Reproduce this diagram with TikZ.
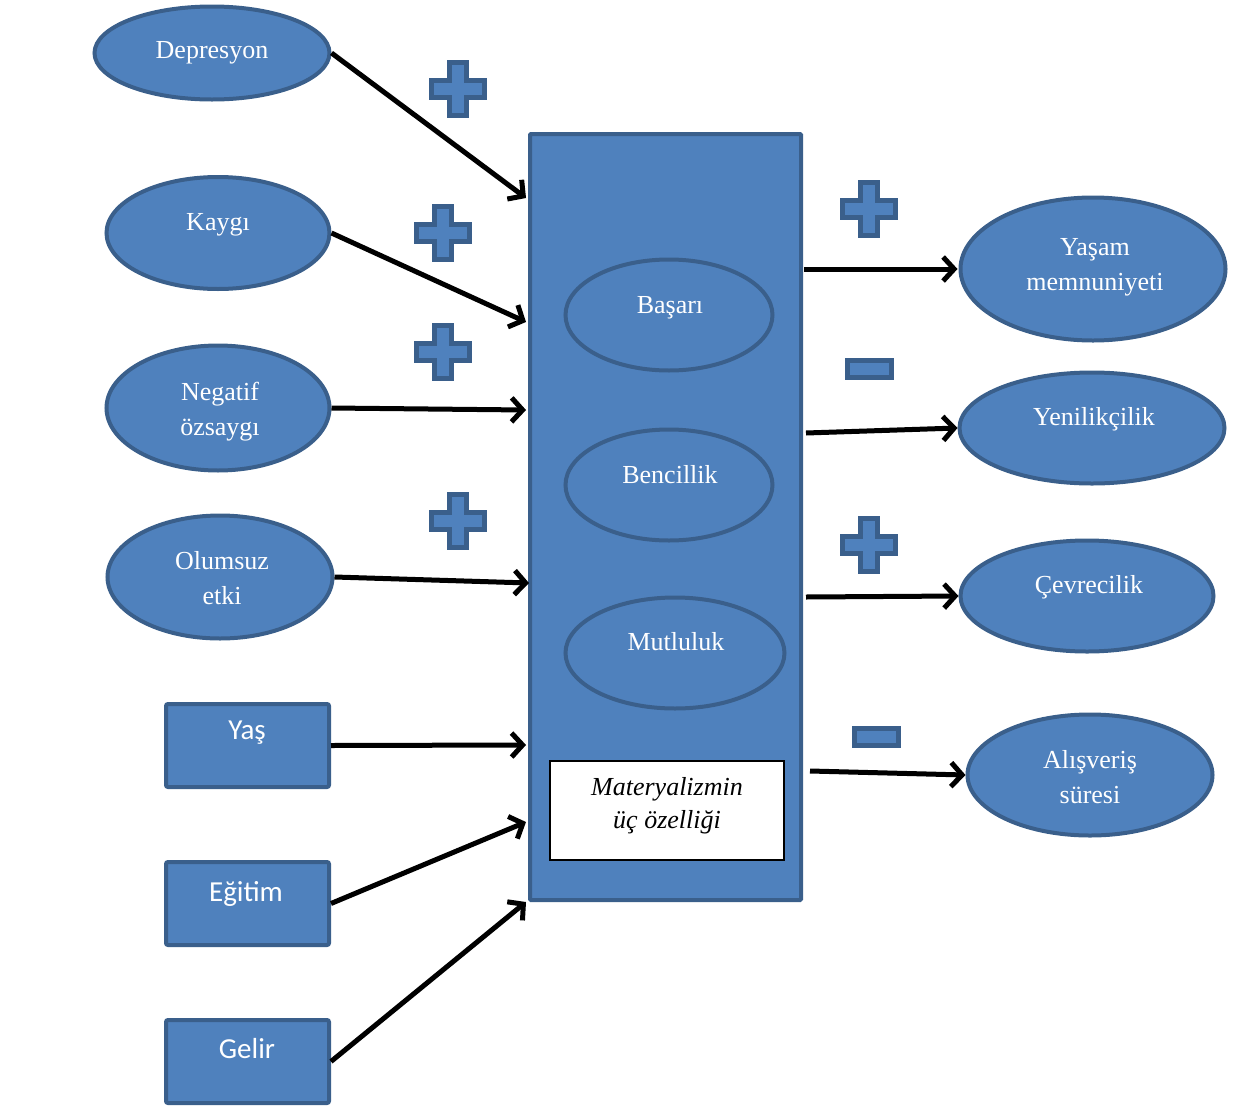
\documentclass[tikz,border=0pt]{standalone}
\usepackage{fontspec}
\setmainfont{Liberation Serif}
\newfontfamily\boxfont{Carlito}
\usetikzlibrary{shapes.geometric,arrows.meta}
\definecolor{fillc}{HTML}{4F81BD}
\definecolor{borderc}{HTML}{3A5F8B}
\tikzset{
  oval/.style={ellipse, draw=borderc, fill=fillc, line width=4pt, inner sep=0pt},
  sqbox/.style={rectangle, rounded corners=2pt, draw=borderc, fill=fillc, line width=4pt, inner sep=0pt},
  lbl/.style={text=white, font=\fontsize{26}{35}\selectfont, anchor=base, inner sep=0pt, align=center},
  blbl/.style={text=white, font=\boxfont\fontsize{29}{35}\selectfont, anchor=base, inner sep=0pt},
  ilbl/.style={text=black, font=\itshape\fontsize{26}{33}\selectfont, anchor=base, inner sep=0pt, align=center},
  arr/.style={line width=5pt, -{Straight Barb[length=11pt,width=24pt]}},
  sign/.style={fill=fillc, draw=borderc, line width=5pt},
  plussign/.pic={\path[sign] (-8.5,-26.5) -- (8.5,-26.5) -- (8.5,-8.5) -- (26.5,-8.5) -- (26.5,8.5) -- (8.5,8.5) -- (8.5,26.5) -- (-8.5,26.5) -- (-8.5,8.5) -- (-26.5,8.5) -- (-26.5,-8.5) -- (-8.5,-8.5) -- cycle;},
  minussign/.pic={\path[sign] (-22,-8.5) rectangle (22,8.5);}
}
\begin{document}
\begin{tikzpicture}[x=1pt,y=-1pt]
\useasboundingbox (0,0) rectangle (1235,1106);

% central box
\node[sqbox, rounded corners=1pt, minimum width=271pt, minimum height=766pt] (main) at (665.5,517) {};
\node[oval, minimum width=207pt, minimum height=111pt] (bas) at (669,315) {};
\node[oval, minimum width=207pt, minimum height=111pt] (ben) at (669,485) {};
\node[oval, minimum width=219pt, minimum height=111pt] (mut) at (675,653) {};
\node[rectangle, draw=black, fill=white, line width=2pt, minimum width=234pt, minimum height=99pt] (mat) at (667,810) {};
\node[lbl] (basT) at (670,313) {Başarı};
\node[lbl] (benT) at (670,483) {Bencillik};
\node[lbl] (mutT) at (676,650) {Mutluluk};
\node[ilbl] (matT) at (667,828) {Materyalizmin\\üç özelliği};

% left inputs
\node[oval, minimum width=235pt, minimum height=93pt] (dep) at (212,53) {};
\node[oval, minimum width=223pt, minimum height=112pt] (kay) at (218,233) {};
\node[oval, minimum width=223pt, minimum height=125pt] (neg) at (218,408) {};
\node[oval, minimum width=225pt, minimum height=123pt] (olu) at (220,577) {};
\node[sqbox, minimum width=163pt, minimum height=83pt] (yas) at (247.5,745.5) {};
\node[sqbox, minimum width=163pt, minimum height=83pt] (egi) at (247.5,903.5) {};
\node[sqbox, minimum width=163pt, minimum height=83pt] (gel) at (247.5,1061.5) {};
\node[lbl] (depT) at (212,58) {Depresyon};
\node[lbl] (kayT) at (218,230) {Kaygı};
\node[lbl] (negT) at (220,435) {Negatif\\özsaygı};
\node[lbl] (oluT) at (222,604) {Olumsuz\\etki};
\node[blbl] (yasT) at (247,739) {Yaş};
\node[blbl] (egiT) at (246,901) {Eğitim};
\node[blbl] (gelT) at (247,1058) {Gelir};

% right outputs
\node[oval, minimum width=265pt, minimum height=143pt] (yam) at (1093,269) {};
\node[oval, minimum width=265pt, minimum height=111pt] (yen) at (1092,428) {};
\node[oval, minimum width=253pt, minimum height=111pt] (cev) at (1087,596) {};
\node[oval, minimum width=245pt, minimum height=121pt] (ali) at (1090,775) {};
\node[lbl] (yamT) at (1095,290) {Yaşam\\memnuniyeti};
\node[lbl] (yenT) at (1094,425) {Yenilikçilik};
\node[lbl] (cevT) at (1089,593) {Çevrecilik};
\node[lbl] (aliT) at (1090,803) {Alışveriş\\süresi};

% entry points on the central box
\coordinate (e1) at ([xshift=-2pt]main.west |- 0,198);
\coordinate (e2) at ([xshift=-2pt]main.west |- 0,322);
\coordinate (e3) at ([xshift=-2pt]main.west |- 0,410);
\coordinate (e4) at ([xshift=1pt]main.west |- 0,583);
\coordinate (e5) at ([xshift=-2pt]main.west |- 0,745);
\coordinate (e6) at ([xshift=-2pt]main.west |- 0,822);
\coordinate (e7) at ([xshift=-2pt]main.south west);

\draw[arr] (dep.east) -- (e1);
\draw[arr] (kay.east) -- (e2);
\draw[arr] (neg.east) -- (e3);
\draw[arr] (olu.east) -- (e4);
\draw[arr] (yas.east) -- (e5);
\draw[arr] (egi.east) -- (e6);
\draw[arr] (gel.east) -- (e7);

\coordinate (o1) at ([xshift=1pt]main.east |- yam.west);
\coordinate (o2) at ([xshift=3pt]main.east |- 0,433);
\coordinate (o3) at ([xshift=3pt]main.east |- 0,597);
\coordinate (o4) at ([xshift=7pt]main.east |- 0,771);

\draw[arr] (o1) -- ([xshift=-1pt]yam.west);
\draw[arr] (o2) -- (yen.west);
\draw[arr] (o3) -- (cev.west);
\draw[arr] (o4) -- (ali.west);

% signs
\pic at (458,89) {plussign};
\pic at (443,233) {plussign};
\pic at (443,352) {plussign};
\pic at (458,521) {plussign};
\pic at (869,209) {plussign};
\pic at (869,369) {minussign};
\pic at (869,545) {plussign};
\pic at (876,737) {minussign};
\end{tikzpicture}
\end{document}
